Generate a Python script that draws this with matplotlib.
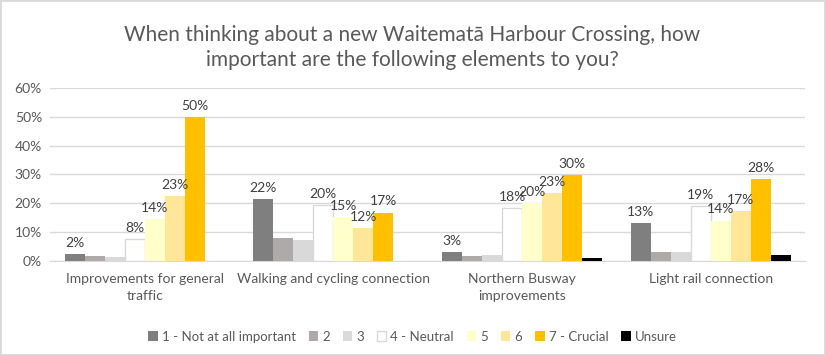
import numpy as np
import matplotlib.pyplot as plt
from matplotlib.patches import Rectangle

# data (percent)
categories = ['Improvements for general\ntraffic', 'Walking and cycling connection',
              'Northern Busway\nimprovements', 'Light rail connection']
series_names = ['1 - Not at all important', '2', '3', '4 - Neutral', '5', '6',
                '7 - Crucial', 'Unsure']
s1 = [2.4, 21.5, 3.2, 13.2]
s2 = [1.6, 8.0, 1.8, 3.2]
s3 = [1.5, 7.2, 2.2, 3.1]
s4 = [7.6, 19.5, 18.2, 18.9]
s5 = [14.4, 15.2, 20.0, 14.0]
s6 = [22.6, 11.5, 23.4, 17.2]
s7 = [50.0, 16.8, 29.8, 28.3]
unsure = [0.0, 0.0, 0.9, 1.9]
labelled = [True, False, False, True, True, True, True, False]

colors = ['#7f7f7f', '#aeaaaa', '#d9d9d9', '#ffffff', '#ffffcc', '#ffe699', '#ffc000', '#000000']
edges = ['none', 'none', 'none', '#d9d9d9', 'none', 'none', 'none', 'none']

plt.rcParams['font.family'] = ['Lato', 'DejaVu Sans']
fig = plt.figure(figsize=(8.25, 3.55), dpi=100)
ax = fig.add_axes([0.061, 0.265, 0.915, 0.487])

data = [s1, s2, s3, s4, s5, s6, s7, unsure]
x = np.arange(len(categories))
w = 0.106
for i, vals in enumerate(data):
    pos = x + (i - 3.5) * w
    ax.bar(pos, vals, w, color=colors[i], edgecolor=edges[i], linewidth=1,
           label=series_names[i], zorder=3)
    if labelled[i]:
        for p, v in zip(pos, vals):
            ax.text(p, v + 1.8, '%d%%' % round(v), ha='center', va='bottom',
                    fontsize=10, color='#404040', zorder=4)

ax.set_ylim(0, 60)
ax.set_xlim(-0.5, 3.5)
ax.set_yticks(np.arange(0, 61, 10))
ax.set_yticklabels(['%d%%' % t for t in range(0, 61, 10)], fontsize=10, color='#595959')
ax.set_xticks(x)
ax.set_xticklabels(categories, fontsize=10, color='#595959', linespacing=1.5)
ax.tick_params(axis='y', length=0, pad=6)
ax.tick_params(axis='x', length=0, pad=9)
ax.grid(axis='y', color='#d9d9d9', linewidth=1, zorder=0)
for s in ['top', 'right', 'left']:
    ax.spines[s].set_visible(False)
ax.spines['bottom'].set_color('#d9d9d9')

fig.text(0.5, 0.93, 'When thinking about a new Waitematā Harbour Crossing, how\n'
         'important are the following elements to you?', ha='center', va='top',
         fontsize=15, color='#595959', linespacing=1.3)

fig.legend(loc='center', bbox_to_anchor=(0.5, 0.052), ncol=8, frameon=False,
           fontsize=9.5, handlelength=0.7, handleheight=0.7, handletextpad=0.3,
           columnspacing=1.0, labelcolor='#595959')

fig.patches.append(Rectangle((0, 0), 1, 1, transform=fig.transFigure, fill=False,
                             edgecolor='#d9d9d9', linewidth=2))
fig.savefig('out.png', dpi=100)
